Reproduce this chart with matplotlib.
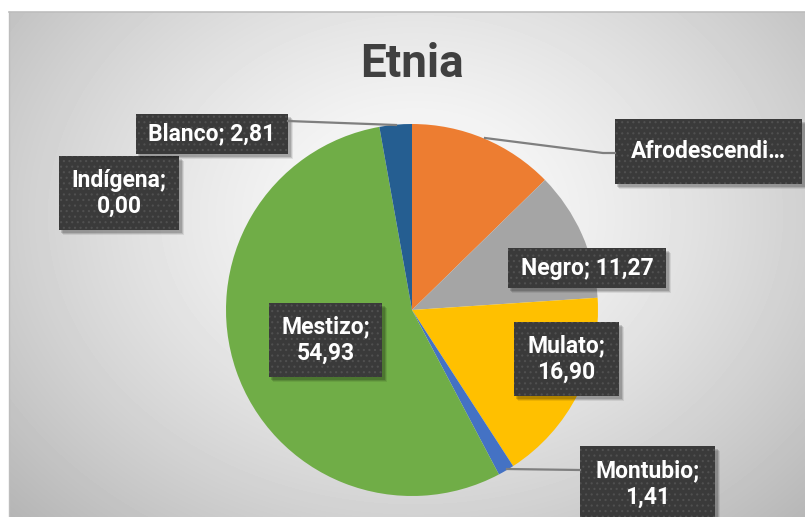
import numpy as np
import matplotlib
matplotlib.use("Agg")
import matplotlib.pyplot as plt
from matplotlib.patches import Rectangle

categories = ["Afrodescendiente", "Negro", "Mulato", "Montubio", "Mestizo", "Indígena", "Blanco"]
values = [12.68, 11.27, 16.90, 1.41, 54.93, 0.00, 2.81]
colors = ["#ED7D31", "#A5A5A5", "#FFC000", "#4472C4", "#70AD47", "#5B9BD5", "#255E91"]
label_texts = ["Afrodescendi…", "Negro; 11,27", "Mulato;\n16,90", "Montubio;\n1,41",
               "Mestizo;\n54,93", "Indígena;\n0,00", "Blanco; 2,81"]
title = "Etnia"

W, H = 805, 517
plt.rcParams["hatch.linewidth"] = 0.8
fig = plt.figure(figsize=(W / 100, H / 100), dpi=100)
fig.patch.set_facecolor("white")
FONT = ["Roboto", "DejaVu Sans"]

def px(x0, y0, x1, y1):
    """pixel box (top-left origin) -> figure fraction rect"""
    return [x0 / W, 1 - y1 / H, (x1 - x0) / W, (y1 - y0) / H]

# background with radial gradient
bg = fig.add_axes(px(9, 12, 820, 530))
bg.set_axis_off()
yy, xx = np.mgrid[12:530, 9:820]
cx, cy = 415, 215
t = np.sqrt(((xx - cx) / 420.0) ** 2 + ((yy - cy) / 330.0) ** 2)
t = np.clip(t, 0, 1.5)
g = np.clip(252 - 48 * t ** 1.4, 0, 255) / 255.0
bg.imshow(g, cmap="gray", vmin=0, vmax=1, aspect="auto", extent=[0, 1, 0, 1],
          interpolation="bilinear")
bg.set_xlim(0, 1); bg.set_ylim(0, 1)
fig.add_artist(plt.Line2D([9 / W, 1], [1 - 12 / H, 1 - 12 / H], color="#bdbdbd", lw=1.2))
fig.add_artist(plt.Line2D([9 / W, 9 / W], [0, 1 - 12 / H], color="#bdbdbd", lw=1.0))

# pie
cxp, cyp, r = 412, 310, 186
ax = fig.add_axes(px(cxp - r, cyp - r, cxp + r, cyp + r))
ax.pie(values, colors=colors, startangle=90, counterclock=False, radius=1,
       wedgeprops=dict(linewidth=0))
ax.set_xlim(-1, 1); ax.set_ylim(-1, 1)
ax.set_axis_off()

fig.text(412 / W, 1 - 64 / H, title, ha="center", va="center", fontsize=33,
         fontweight="bold", color="#404040", family=FONT)

# leader lines (pixel coords)
leaders = [
    [(485, 138), (603, 153), (615, 153)],
    [(507, 469), (580, 470)],
    [(288, 121), (396, 125)],
]
for pts in leaders:
    xs = [p[0] / W for p in pts]
    ys = [1 - p[1] / H for p in pts]
    fig.add_artist(plt.Line2D(xs, ys, color="#7f7f7f", lw=1.6))

boxes = [
    (615, 119, 802, 184),
    (508, 248, 666, 288),
    (514, 322, 619, 396),
    (580, 446, 715, 540),
    (269, 303, 382, 377),
    (59, 156, 179, 230),
    (136, 114, 288, 154),
]
text_centers_y = [None, None, None, (446 + 522) / 2, None, None, None]

for (x0, y0, x1, y1), lab, tcy in zip(boxes, label_texts, text_centers_y):
    # shadow
    for off, a in [(5, 0.08), (4, 0.12), (3, 0.15)]:
        r0 = px(x0 + off - 1, y0 + off, x1 + off, y1 + off)
        fig.add_artist(Rectangle((r0[0], r0[1]), r0[2], r0[3], transform=fig.transFigure,
                                 facecolor="black", alpha=a, linewidth=0))
    rr = px(x0, y0, x1, y1)
    fig.add_artist(Rectangle((rr[0], rr[1]), rr[2], rr[3], transform=fig.transFigure,
                             facecolor="#3a3a3a", linewidth=0))
    fig.add_artist(Rectangle((rr[0], rr[1]), rr[2], rr[3], transform=fig.transFigure,
                             facecolor="none", edgecolor="#505050", hatch="...", linewidth=0))
    ycen = tcy if tcy is not None else (y0 + y1) / 2
    fig.text((x0 + x1) / 2 / W, 1 - ycen / H, lab, ha="center", va="center",
             fontsize=16.5, fontweight="bold", color="white", family=FONT,
             linespacing=1.15)

fig.savefig("out.png", dpi=100)
